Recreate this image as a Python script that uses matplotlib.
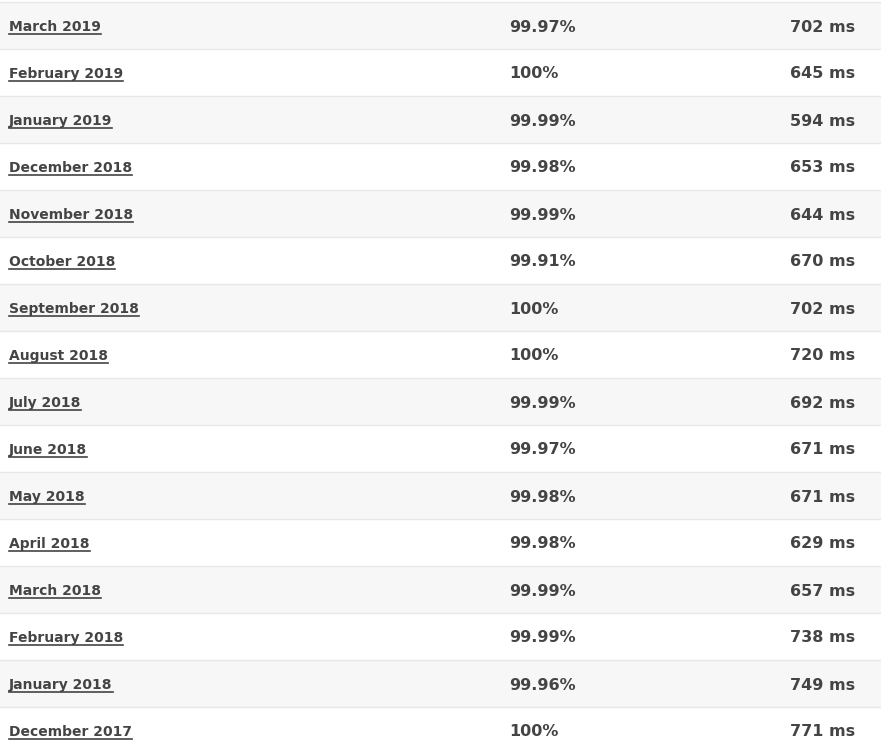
import matplotlib.pyplot as plt
from matplotlib.patches import Rectangle

months = ["March 2019", "February 2019", "January 2019", "December 2018",
          "November 2018", "October 2018", "September 2018", "August 2018",
          "July 2018", "June 2018", "May 2018", "April 2018", "March 2018",
          "February 2018", "January 2018", "December 2017"]
uptime = ["99.97%", "100%", "99.99%", "99.98%", "99.99%", "99.91%", "100%", "100%",
          "99.99%", "99.97%", "99.98%", "99.98%", "99.99%", "99.99%", "99.96%", "100%"]
response_ms = [702, 645, 594, 653, 644, 670, 702, 720, 692, 671, 671, 629, 657, 738, 749, 771]

W, H = 881, 754
top, row_h = 2, 47
text_color = "#444444"

fig = plt.figure(figsize=(W / 100, H / 100), dpi=100)
ax = fig.add_axes([0, 0, 1, 1])
ax.set_xlim(0, W)
ax.set_ylim(H, 0)
ax.axis("off")

labels = []
for i, m in enumerate(months):
    y0 = top + i * row_h
    bg = "#f7f7f7" if i % 2 == 0 else "white"
    ax.add_patch(Rectangle((0, y0), W, row_h, facecolor=bg, edgecolor="none"))
    ax.plot([0, W], [y0, y0], color="#e8e8e8", lw=1)
    base = y0 + row_h / 2 + 6
    t = ax.text(9, base - 0.5, m, fontsize=10, fontweight="bold", color=text_color,
                va="baseline", ha="left", family="DejaVu Sans")
    labels.append((t, base))
    ax.text(509, base, uptime[i], fontsize=11.5, fontweight="bold", color=text_color,
            va="baseline", ha="left", family="DejaVu Sans")
    ax.text(855, base, f"{response_ms[i]} ms", fontsize=11.5, fontweight="bold",
            color=text_color, va="baseline", ha="right", family="DejaVu Sans")

# underline month links
fig.canvas.draw()
inv = ax.transData.inverted()
for t, base in labels:
    bb = t.get_window_extent()
    (x0, _), (x1, _) = inv.transform([[bb.x0, bb.y0], [bb.x1, bb.y1]])
    ax.plot([x0, x1], [base + 2.5, base + 2.5], color=text_color, lw=1.2)

fig.savefig("out.png", dpi=100)
